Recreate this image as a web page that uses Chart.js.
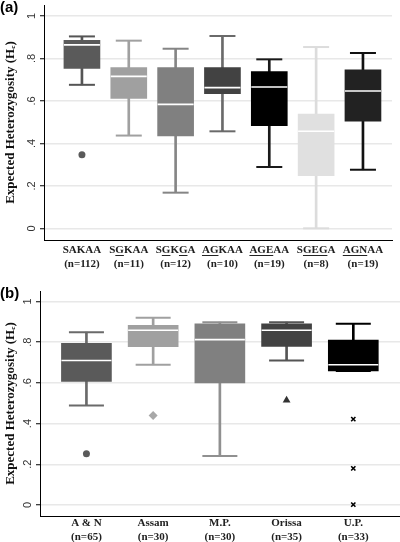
<!DOCTYPE html>
<html>
<head>
<meta charset="utf-8">
<script src="https://cdn.jsdelivr.net/npm/chart.js@4.4.0/dist/chart.umd.min.js"></script>
<style>
body { margin: 0; background: #fff; }
#wrap { position: relative; width: 400px; height: 542px; }
canvas { position: absolute; left: 0; }
.tag { position: absolute; left: 0; font: bold 15px/15px "Liberation Sans", Arial, sans-serif; color: #000; }
</style>
</head>
<body>
<div id="wrap">
  <canvas id="chartA" width="400" height="271" style="top:0"></canvas>
  <canvas id="chartB" width="400" height="271" style="top:271px"></canvas>
  <div class="tag" style="top:-1px">(a)</div>
  <div class="tag" style="top:285px">(b)</div>
</div>
<script>
// Axis ticks (shared)
const yTickVals = [0, 0.2, 0.4, 0.6, 0.8, 1];
const yTickLabels = ['0', '.2', '.4', '.6', '.8', '1'];
const yTitle = 'Expected Heterozygosity (H\u2091)';

// Panel (a): haplotypes
const groupsA = ['SAKAA', 'SGKAA', 'SGKGA', 'AGKAA', 'AGEAA', 'SGEGA', 'AGNAA'];
const countsA = [112, 11, 12, 10, 19, 8, 19];
const minA = [0.676, 0.437, 0.168, 0.457, 0.289, 0.000, 0.276];
const q1A  = [0.753, 0.612, 0.435, 0.634, 0.484, 0.248, 0.505];
const medA = [0.864, 0.716, 0.584, 0.663, 0.666, 0.457, 0.647];
const q3A  = [0.885, 0.757, 0.757, 0.757, 0.738, 0.538, 0.747];
const maxA = [0.904, 0.884, 0.846, 0.906, 0.796, 0.854, 0.826];
const outGroupA = [1];
const outValA = [0.347];
// underlined letters in the first label line [start, end)
const underlineA = [[], [[1, 2]], [[1, 2], [3, 4]], [[0, 2]], [[0, 3]], [[1, 4]], [[0, 3]]];

// Panel (b): regions
const groupsB = ['A & N', 'Assam', 'M.P.', 'Orissa', 'U.P.'];
const countsB = [65, 30, 30, 35, 33];
const minB = [0.489, 0.689, 0.241, 0.710, 0.658];
const q1B  = [0.607, 0.777, 0.599, 0.779, 0.658];
const medB = [0.710, 0.858, 0.812, 0.858, 0.689];
const q3B  = [0.794, 0.882, 0.890, 0.890, 0.810];
const maxB = [0.849, 0.920, 0.898, 0.898, 0.890];
const outGroupB = [1, 2, 4, 5, 5, 5];
const outValB = [0.252, 0.439, 0.514, 0.422, 0.180, 0.002];

// Styles
const boxColorsA = ['#5a5a5a', '#a0a0a0', '#808080', '#424242', '#000000', '#e0e0e0', '#222222'];
const whiskColorsA = ['#555555', '#a0a0a0', '#858585', '#6a6a6a', '#1a1a1a', '#dcdcdc', '#111111'];
const markerA = ['circle', 'circle', 'circle', 'circle', 'circle', 'circle', 'circle'];
const boxColorsB = ['#5a5a5a', '#a0a0a0', '#808080', '#424242', '#000000'];
const whiskColorsB = ['#6a6a6a', '#a0a0a0', '#909090', '#555555', '#000000'];
const markerB = ['circle', 'rectRot', 'circle', 'triangle', 'crossRot'];
const markerColorsB = ['#5a5a5a', '#a8a8a8', '#808080', '#333333', '#000000'];

function markerSize(m) {
  if (m === 'crossRot') return 3;
  if (m === 'rectRot') return 4.5;
  if (m === 'triangle') return 4.5;
  return 3.5;
}

function makeBoxChart(id, d, s) {
  const idx = d.groups.map((g, i) => i + 1);

  const underlinePlugin = {
    id: 'underline',
    afterDraw(chart) {
      if (!d.underline) return;
      const sc = chart.scales.x, ctx = chart.ctx;
      const font = Chart.helpers.toFont(sc.options.ticks.font);
      ctx.save();
      ctx.font = font.string;
      ctx.strokeStyle = '#222';
      ctx.lineWidth = 1;
      const y = Math.round(sc.top + sc.options.ticks.padding + font.lineHeight / 2 + 4) + 0.5;
      d.groups.forEach((g, i) => {
        const cx = sc.getPixelForValue(i + 1);
        const x0 = cx - ctx.measureText(g).width / 2;
        d.underline[i].forEach(([a, b]) => {
          const x1 = x0 + ctx.measureText(g.slice(0, a)).width;
          const x2 = x0 + ctx.measureText(g.slice(0, b)).width;
          ctx.beginPath();
          ctx.moveTo(x1, y);
          ctx.lineTo(x2, y);
          ctx.stroke();
        });
      });
      ctx.restore();
    }
  };

  const caps = [], capColors = [];
  idx.forEach((x, i) => {
    caps.push({ x, y: d.max[i] }, { x, y: d.min[i] });
    capColors.push(s.whisk[i], s.whisk[i]);
  });

  const noPad = sc => { sc.paddingTop = 0; sc.paddingBottom = 0; sc.paddingLeft = 0; sc.paddingRight = 0; };

  new Chart(document.getElementById(id), {
    type: 'bar',
    data: {
      datasets: [
        {
          label: 'whiskers',
          data: idx.map((x, i) => ({ x, y: [d.min[i], d.max[i]] })),
          backgroundColor: s.whisk,
          barThickness: 2,
          grouped: false,
          order: 5
        },
        {
          label: 'boxes',
          data: idx.map((x, i) => ({ x, y: [d.q1[i], d.q3[i]] })),
          backgroundColor: s.box,
          barThickness: s.boxW,
          grouped: false,
          order: 4
        },
        {
          type: 'scatter',
          label: 'caps',
          data: caps,
          pointStyle: 'line',
          pointRadius: s.capW / 2,
          pointBorderWidth: 2,
          pointBorderColor: capColors,
          order: 3
        },
        {
          type: 'scatter',
          label: 'medians',
          data: idx.map((x, i) => ({ x, y: d.med[i] })),
          pointStyle: 'line',
          pointRadius: s.boxW / 2,
          pointBorderWidth: 1.6,
          pointBorderColor: '#ffffff',
          order: 2
        },
        {
          type: 'scatter',
          label: 'outliers',
          data: d.outGroup.map((g, i) => ({ x: g, y: d.outVal[i] })),
          pointStyle: d.outGroup.map(g => s.marker[g - 1]),
          pointRadius: d.outGroup.map(g => markerSize(s.marker[g - 1])),
          pointBackgroundColor: d.outGroup.map(g => s.markerColor[g - 1]),
          pointBorderColor: d.outGroup.map(g => s.markerColor[g - 1]),
          pointBorderWidth: d.outGroup.map(g => s.marker[g - 1] === 'crossRot' ? 1.6 : 0),
          order: 1
        }
      ]
    },
    options: {
      responsive: false,
      animation: false,
      events: [],
      layout: { autoPadding: false, padding: { top: s.padTop, right: s.padRight, left: 0, bottom: 0 } },
      plugins: { legend: { display: false }, tooltip: { enabled: false } },
      scales: {
        x: {
          type: 'linear',
          min: s.xMin,
          max: s.xMax,
          offset: false,
          afterBuildTicks: sc => { sc.ticks = idx.map(v => ({ value: v })); },
          afterFit: sc => { sc.height = s.xHeight; noPad(sc); },
          grid: { display: false, drawTicks: false },
          border: { display: true, color: '#000', width: 1 },
          ticks: {
            autoSkip: false,
            maxRotation: 0,
            padding: s.labelPad,
            color: '#222',
            font: { family: '"Liberation Serif", serif', weight: 'bold', size: 11 },
            callback: (v, i) => [d.groups[i], '(n=' + d.counts[i] + ')']
          }
        },
        y: {
          type: 'linear',
          min: s.yMin,
          max: s.yMax,
          afterBuildTicks: sc => { sc.ticks = yTickVals.map(v => ({ value: v })); },
          afterFit: sc => { sc.width = s.yWidth; noPad(sc); },
          grid: { color: '#e8e8e8', lineWidth: 1.5, tickColor: '#000', tickLength: 4, tickWidth: 1 },
          border: { display: true, color: '#000', width: 1 },
          ticks: {
            minRotation: 90,
            maxRotation: 90,
            crossAlign: 'center',
            padding: 3,
            color: '#333',
            font: { family: '"Liberation Sans", Arial, sans-serif', size: 11 },
            callback: (v, i) => yTickLabels[i]
          },
          title: {
            display: true,
            text: yTitle,
            color: '#111',
            font: { family: '"Liberation Serif", serif', weight: 'bold', size: 13 },
            padding: { top: 3, bottom: 0 }
          }
        }
      }
    },
    plugins: [underlinePlugin]
  });
}

makeBoxChart('chartA',
  { groups: groupsA, counts: countsA, min: minA, q1: q1A, med: medA, q3: q3A, max: maxA,
    outGroup: outGroupA, outVal: outValA, underline: underlineA },
  { box: boxColorsA, whisk: whiskColorsA, marker: markerA, markerColor: boxColorsA,
    boxW: 36, capW: 26, padTop: 5, padRight: 8, yWidth: 44, xHeight: 31, labelPad: 4,
    yMin: -0.055, yMax: 1.052, xMin: 0.19, xMax: 7.62 });

makeBoxChart('chartB',
  { groups: groupsB, counts: countsB, min: minB, q1: q1B, med: medB, q3: q3B, max: maxB,
    outGroup: outGroupB, outVal: outValB, underline: null },
  { box: boxColorsB, whisk: whiskColorsB, marker: markerB, markerColor: markerColorsB,
    boxW: 50, capW: 35, padTop: 20, padRight: 0, yWidth: 40, xHeight: 26, labelPad: 1,
    yMin: -0.054, yMax: 1.051, xMin: 0.304, xMax: 5.70 });
</script>
</body>
</html>
